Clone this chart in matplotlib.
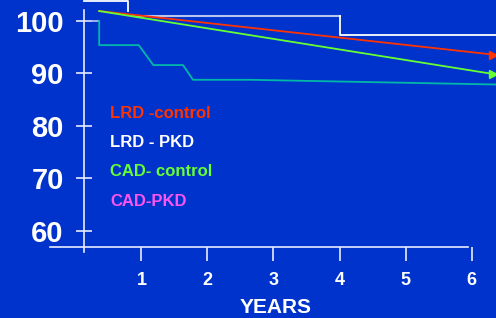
import matplotlib
matplotlib.use("Agg")
import matplotlib.pyplot as plt

plt.rcParams['font.family'] = ['Liberation Sans', 'DejaVu Sans']

BG = '#0033cc'

# survival (%) vs years
lrd_control_x = [0.36, 6.33]
lrd_control_y = [101.9, 93.6]

cad_control_x = [0.36, 6.33]
cad_control_y = [101.9, 89.9]

# teal step curve
step_x = [0.13, 0.36, 0.36, 0.43, 0.96, 1.18, 1.63, 1.78, 2.65, 6.37]
step_y = [100.0, 100.0, 95.4, 95.4, 95.4, 91.6, 91.6, 88.8, 88.8, 87.9]

# white step curve near the top (LRD - PKD)
pkd_x1 = [0.13, 0.80, 0.80]
pkd_y1 = [103.8, 103.8, 101.9]
pkd_x2 = [0.87, 4.01, 4.01, 6.37]
pkd_y2 = [101.0, 101.0, 97.3, 97.3]

yticks = [60, 70, 80, 90, 100]
xticks = [1, 2, 3, 4, 5, 6]

legend_labels = ['LRD -control', 'LRD - PKD', 'CAD- control', 'CAD-PKD']
legend_colors = ['#ff3300', '#ffffff', '#66ff33', '#ff55ee']

fig = plt.figure(figsize=(4.96, 3.18), dpi=100)
fig.patch.set_facecolor(BG)
ax = fig.add_axes([50/496, 71/318, 446/496, 247/318])
ax.set_facecolor(BG)
ax.set_xlim(-0.385, 6.37)
ax.set_ylim(56.95, 104.0)

# lines
ax.plot(step_x[:2], step_y[:2], color='#b8c4f0', lw=1.2, clip_on=False)
ax.plot(step_x[1:], step_y[1:], color='#00b8a8', lw=1.3, clip_on=False)
ax.plot(pkd_x1, pkd_y1, color='white', lw=1.3, clip_on=False)
ax.plot(pkd_x2[:2], pkd_y2[:2], color='#b8c4f0', lw=1.5, clip_on=False)
ax.plot(pkd_x2[1:], pkd_y2[1:], color='white', lw=1.3, clip_on=False)
ax.plot(lrd_control_x, lrd_control_y, color='#ff3300', lw=1.3, clip_on=False)
ax.plot(cad_control_x, cad_control_y, color='#66ff33', lw=1.3, clip_on=False)
ax.plot(lrd_control_x[-1:], lrd_control_y[-1:], marker='>', color='#ff3300', ms=6, clip_on=False)
ax.plot(cad_control_x[-1:], cad_control_y[-1:], marker='>', color='#66ff33', ms=6, clip_on=False)

# spines
for s in ['top', 'right']:
    ax.spines[s].set_visible(False)
ax.spines['left'].set_position(('data', 0.13))
ax.spines['left'].set_bounds(56.0, 102.1)
ax.spines['bottom'].set_bounds(-0.385, 5.95)
for s in ['left', 'bottom']:
    ax.spines[s].set_color('#e8ecff')
    ax.spines[s].set_linewidth(1.2)

ax.set_yticks(yticks)
ax.set_yticklabels([str(v) for v in yticks])
ax.set_xticks(xticks)
ax.set_xticklabels([str(v) for v in xticks])
ax.tick_params(axis='y', direction='inout', length=11, width=1.2, color='#e8ecff',
               labelcolor='white', labelsize=21, pad=9)
ax.tick_params(axis='x', direction='out', length=10, width=1.2, color='#e8ecff',
               labelcolor='white', labelsize=13, pad=8)
for lab in ax.get_yticklabels() + ax.get_xticklabels():
    lab.set_fontweight('bold')

ax.set_xlabel('YEARS', color='white', fontsize=15, fontweight='bold')
ax.xaxis.set_label_coords((276 - 50) / 446, -0.208)

# legend as coloured text
leg_y = [0.5425, 0.425, 0.304, 0.186]
for lab, col, yy in zip(legend_labels, legend_colors, leg_y):
    ax.text((110 - 50) / 446, yy, lab,
            transform=ax.transAxes, color=col, fontsize=12, fontweight='bold',
            va='center', ha='left')

fig.savefig('out.png', dpi=100, facecolor=BG)
